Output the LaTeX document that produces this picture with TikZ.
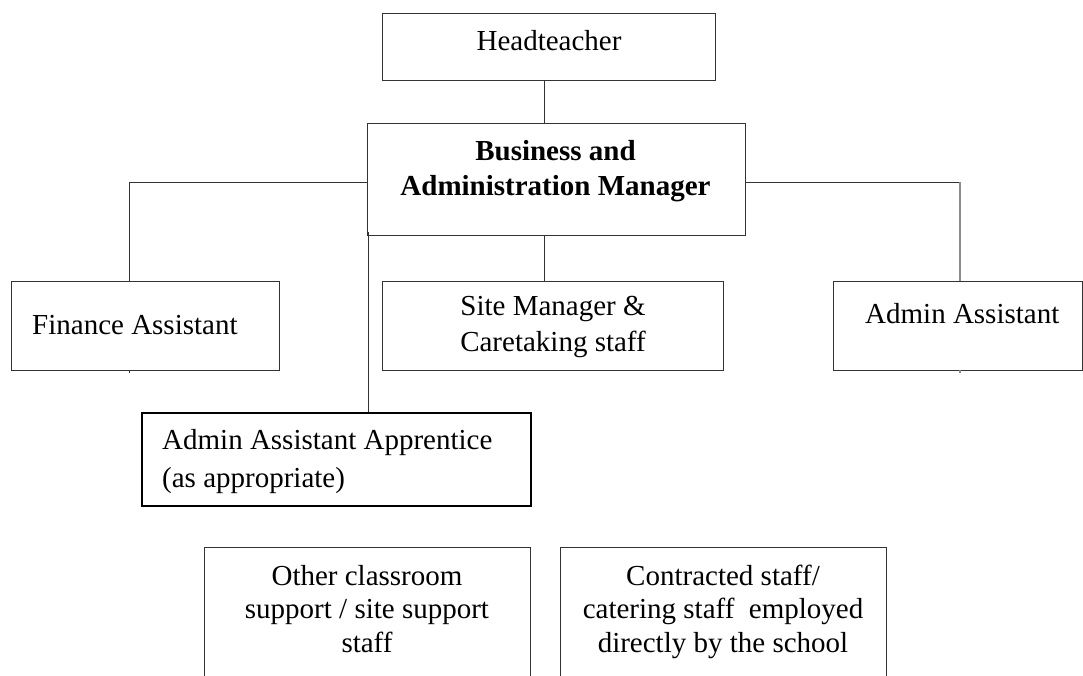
\documentclass[tikz,border=0pt]{standalone}
\usepackage{fontspec}
\setmainfont{Liberation Serif}
\usetikzlibrary{calc}
\begin{document}
\begin{tikzpicture}[x=1pt,y=-1pt,
  box/.style={draw=black!80,line width=0.9pt,rectangle,inner sep=0pt},
  heavybox/.style={draw=black,line width=1.7pt,rectangle,inner sep=0pt},
  lbl/.style={inner sep=0pt,font=\fontsize{29}{35}\selectfont},
  link/.style={draw=black!80,line width=0.9pt},
  greylink/.style={draw=black!45,line width=1.1pt}]
\clip (0,0) rectangle (1083,675);
\fill[white] (0,0) rectangle (1083,675);

% boxes
\node[box,minimum width=333pt,minimum height=67pt] (head) at (548.5,46.5) {};
\node[box,minimum width=378pt,minimum height=112pt] (bam) at (556,179) {};
\node[box,minimum width=268pt,minimum height=89pt] (fin) at (145,325.5) {};
\node[box,minimum width=341pt,minimum height=89pt] (site) at (552.5,325.5) {};
\node[box,minimum width=249pt,minimum height=89pt] (adm) at (957.5,325.5) {};
\node[heavybox,minimum width=389pt,minimum height=93pt] (app) at (336.5,459.5) {};
\node[box,minimum width=326pt,minimum height=170pt] (other) at (367,632) {};
\node[box,minimum width=326pt,minimum height=170pt] (contr) at (723,632) {};

% texts
\node[lbl,anchor=base] (headt) at (549,50) {Headteacher};
\node[lbl,anchor=base] (bamt1) at (555.5,160) {\bfseries Business and};
\node[lbl,anchor=base] (bamt2) at (555.5,195) {\bfseries Administration Manager};
\node[lbl,anchor=base west] (fint) at (32,334) {Finance Assistant};
\node[lbl,anchor=base] (sitet1) at (553,315) {Site Manager \&};
\node[lbl,anchor=base] (sitet2) at (553,351) {Caretaking staff};
\node[lbl,anchor=base west] (admt) at (865,323) {Admin Assistant};
\node[lbl,anchor=base west] (appt1) at (162,449) {Admin Assistant Apprentice};
\node[lbl,anchor=base west] (appt2) at (162,487) {(as appropriate)};
\node[lbl,anchor=base] (othert1) at (367,585) {Other classroom};
\node[lbl,anchor=base] (othert2) at (367,618) {support / site support};
\node[lbl,anchor=base] (othert3) at (367,652) {staff};
\node[lbl,anchor=base] (contrt1) at (723,585) {Contracted staff/};
\node[lbl,anchor=base] (contrt2) at (723,618) {catering staff\ \ employed};
\node[lbl,anchor=base] (contrt3) at (723,652) {directly by the school};

% connector anchors
\coordinate (spine) at (544,0);
\coordinate (armL) at (129,182);
\coordinate (armR) at (960,182);
\coordinate (drop) at (368,0);

% connectors
\draw[link] (spine |- head.south) -- (spine |- bam.north);
\draw[link] (spine |- bam.south) -- (spine |- site.north);
\draw[link] (bam.west |- armL) -- (armL) -- (armL |- fin.north);
\draw[link] (armL |- fin.south) -- ++(0,3);
\draw[link] (bam.east |- armR) -- (armR);
\draw[greylink] (armR) -- (armR |- adm.north);
\draw[greylink] (armR |- adm.south) -- ++(0,3);
\draw[link] ($(drop |- bam.south)+(0,-3)$) -- (drop |- app.north);
\end{tikzpicture}
\end{document}
